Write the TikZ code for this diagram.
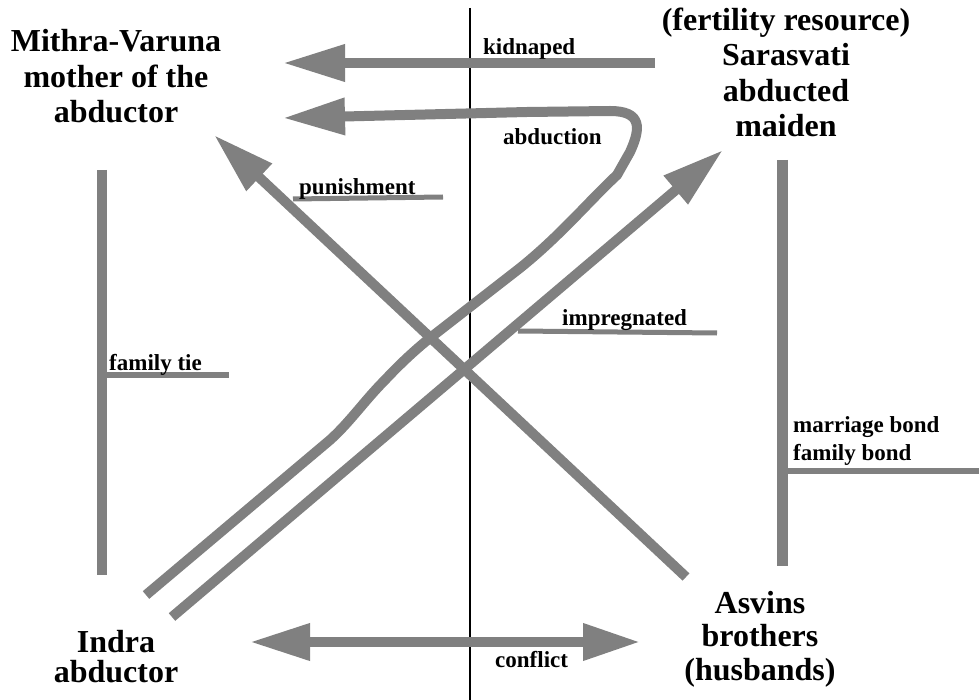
\documentclass[tikz,border=0pt]{standalone}
\usepackage{fontspec}
\setmainfont{Liberation Serif}
\usetikzlibrary{arrows.meta}
\definecolor{linegray}{RGB}{128,128,128}
\begin{document}
\begin{tikzpicture}[x=1pt,y=-1pt,
  title/.style={font=\fontsize{32}{35.5}\selectfont\bfseries, align=center, inner sep=0pt, anchor=base},
  lbl/.style={font=\fontsize{23}{28}\selectfont\bfseries, inner sep=0pt, anchor=base west, align=left},
  bigarrow/.style={draw=linegray, line width=10pt, -{Triangle[length=62pt 0 0, width=35pt 0 0]}},
  dblarrow/.style={draw=linegray, line width=10pt, {Triangle[length=60pt 0 0, width=35pt 0 0]}-{Triangle[length=57pt 0 0, width=35pt 0 0]}},
  bondline/.style={draw=linegray, line width=10pt},
  tieline/.style={draw=linegray, line width=6pt},
  labline/.style={draw=linegray, line width=5pt},
  divider/.style={draw=black, line width=1.6pt}]
\useasboundingbox (0,0) rectangle (979,700);
\fill[white] (0,0) rectangle (979,700);

% titles (anchor = baseline of last line)
\node[title] (mv) at (116,123) {Mithra-Varuna\\mother of the\\abductor};
\node[title] (sar) at (786,137) {(fertility resource)\\Sarasvati\\abducted\\maiden};
\node[title, font=\fontsize{32}{30}\selectfont\bfseries] (indra) at (116,682) {Indra\\abductor};
\node[title, font=\fontsize{32}{33.5}\selectfont\bfseries] (asv) at (760,680) {Asvins\\brothers\\(husbands)};

% divider
\coordinate (dtop) at (470,8);
\coordinate (dbot) at (470,700);
\draw[divider] (dtop) -- (dbot);

% coordinates for connectors
\coordinate (kidS) at (655,63);
\coordinate (kidE) at (283,63);
\coordinate (abS) at (146,595);
\coordinate (abE) at (283,118);
\coordinate (impS) at (172,617);
\coordinate (impE) at (723,150);
\coordinate (punS) at (686,577);
\coordinate (punE) at (214,135);
\coordinate (conL) at (250,642);
\coordinate (conR) at (640,642);

% bonds
\coordinate (ftT) at (102,170);
\coordinate (ftB) at (102,575);
\coordinate (ftA) at (107,375);
\coordinate (ftR) at (229,375);
\coordinate (mbT) at (782,160);
\coordinate (mbB) at (782,566);
\coordinate (mbA) at (787,471);
\coordinate (mbR) at (979,471);
\coordinate (puA) at (293,199);
\coordinate (puB) at (443,197);
\coordinate (imA) at (518,331);
\coordinate (imB) at (717,333);

\draw[bondline] (ftT) -- (ftB);
\draw[tieline] (ftA) -- (ftR);
\draw[bondline, line width=11pt] (mbT) -- (mbB);
\draw[tieline] (mbA) -- (mbR);
\draw[labline] (puA) -- (puB);
\draw[labline] (imA) -- (imB);

% arrows
\draw[bigarrow] (kidS) -- (kidE);
\draw[bigarrow] (abS) -- (330,440) .. controls (350,422) and (365,400) .. (385,380)
   .. controls (400,364) and (415,350) .. (430,338) -- (520,268)
   .. controls (560,236) and (590,200) .. (617,175) -- (630,152)
   .. controls (641,128) and (642,111) .. (610,111) -- (527,112) -- (abE);
\draw[bigarrow] (impS) -- (impE);
\draw[bigarrow] (punS) -- (punE);
\draw[dblarrow] (conL) -- (conR);

% labels
\node[lbl] (lkid) at (483,55) {kidnaped};
\node[lbl] (labd) at (503,145) {abduction};
\node[lbl] (lpun) at (299,195) {punishment};
\node[lbl] (limp) at (562,326) {impregnated};
\node[lbl] (lft) at (109,370) {family tie};
\node[lbl] (lmb) at (793,460) {marriage bond\\family bond};
\node[lbl] (lcon) at (495,667) {conflict};
\end{tikzpicture}
\end{document}
